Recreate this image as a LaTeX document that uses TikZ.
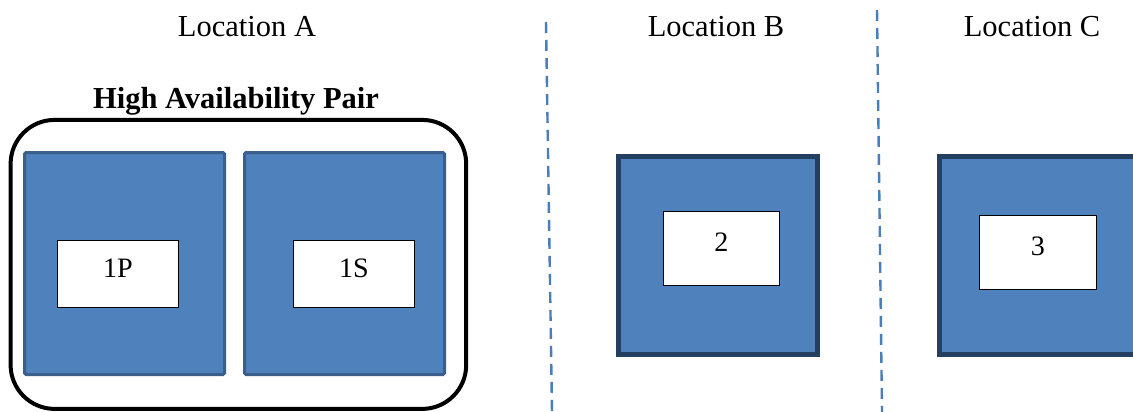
\documentclass[tikz,border=0pt]{standalone}
\usepackage{fontspec}
\setmainfont{Liberation Serif}
\usepackage{tikz}
\usetikzlibrary{backgrounds,calc}
\definecolor{fillblue}{HTML}{4F81BD}
\definecolor{hostline}{HTML}{3A5F8C}
\definecolor{siteline}{HTML}{243F60}
\definecolor{sepline}{HTML}{4A7EBB}

\begin{document}
\begin{tikzpicture}[
  loc/.style={font=\fontsize{21.7}{26}\selectfont},
  pairtitle/.style={font=\fontsize{21.7}{26}\selectfont\bfseries},
  pairbox/.style={draw=black, line width=0.1cm, rounded corners=1.1cm, inner sep=0pt},
  hostbox/.style={draw=hostline, fill=fillblue, line width=0.075cm, rounded corners=1pt,
    minimum width=5cm, minimum height=5.55cm, inner sep=0pt},
  sitebox/.style={draw=siteline, fill=fillblue, line width=0.125cm,
    minimum width=4.975cm, minimum height=4.95cm, inner sep=0pt},
  tagbox/.style={draw=black, fill=white, line width=0.03cm, inner sep=0pt,
    text depth=0.3cm, font=\fontsize{20}{24}\selectfont},
  sep/.style={draw=sepline, line width=0.06cm, dash pattern=on 0.275cm off 0.175cm}
]
\useasboundingbox (0cm,0cm) rectangle (28.325cm,-10.275cm);
\clip (0cm,0cm) rectangle (28.325cm,-10.275cm);
\fill[white] (0cm,0cm) rectangle (28.325cm,-10.275cm);

% locations
\node[loc] (locA) at (6.175cm,-0.675cm) {Location A};
\node[loc] (locB) at (17.9cm,-0.675cm) {Location B};
\node[loc] (locC) at (25.8cm,-0.675cm) {Location C};

% separators
\coordinate (s1) at (13.65cm,-0.55cm);
\coordinate (e1) at (13.8cm,-10.3cm);
\coordinate (s2) at (21.925cm,-0.25cm);
\coordinate (e2) at (22.05cm,-10.3cm);
\draw[sep] (s1) -- (e1);
\draw[sep] (s2) -- (e2);

% location A
\node[pairtitle] (hap) at (5.9cm,-2.53cm) {High Availability Pair};
\node[pairbox, minimum width=11.39cm, minimum height=7.225cm] (pair) at (5.96cm,-6.61cm) {};
\node[hostbox] (h1) at (3.1125cm,-6.5875cm) {};
\node[hostbox] (h2) at (8.6125cm,-6.5875cm) {};
\node[tagbox, minimum width=3.025cm, minimum height=1.675cm] (t1p) at (2.95cm,-6.85cm) {1P};
\node[tagbox, minimum width=3.025cm, minimum height=1.675cm] (t1s) at (8.85cm,-6.85cm) {1S};

% locations B and C
\node[sitebox] (b) at (17.95cm,-6.3875cm) {};
\node[tagbox, minimum width=2.9cm, minimum height=1.85cm] (t2) at (18.0375cm,-6.2125cm) {2};
\node[sitebox] (c) at (25.975cm,-6.3875cm) {};
\node[tagbox, minimum width=2.925cm, minimum height=1.85cm] (t3) at (25.95cm,-6.3125cm) {3};
\end{tikzpicture}
\end{document}
